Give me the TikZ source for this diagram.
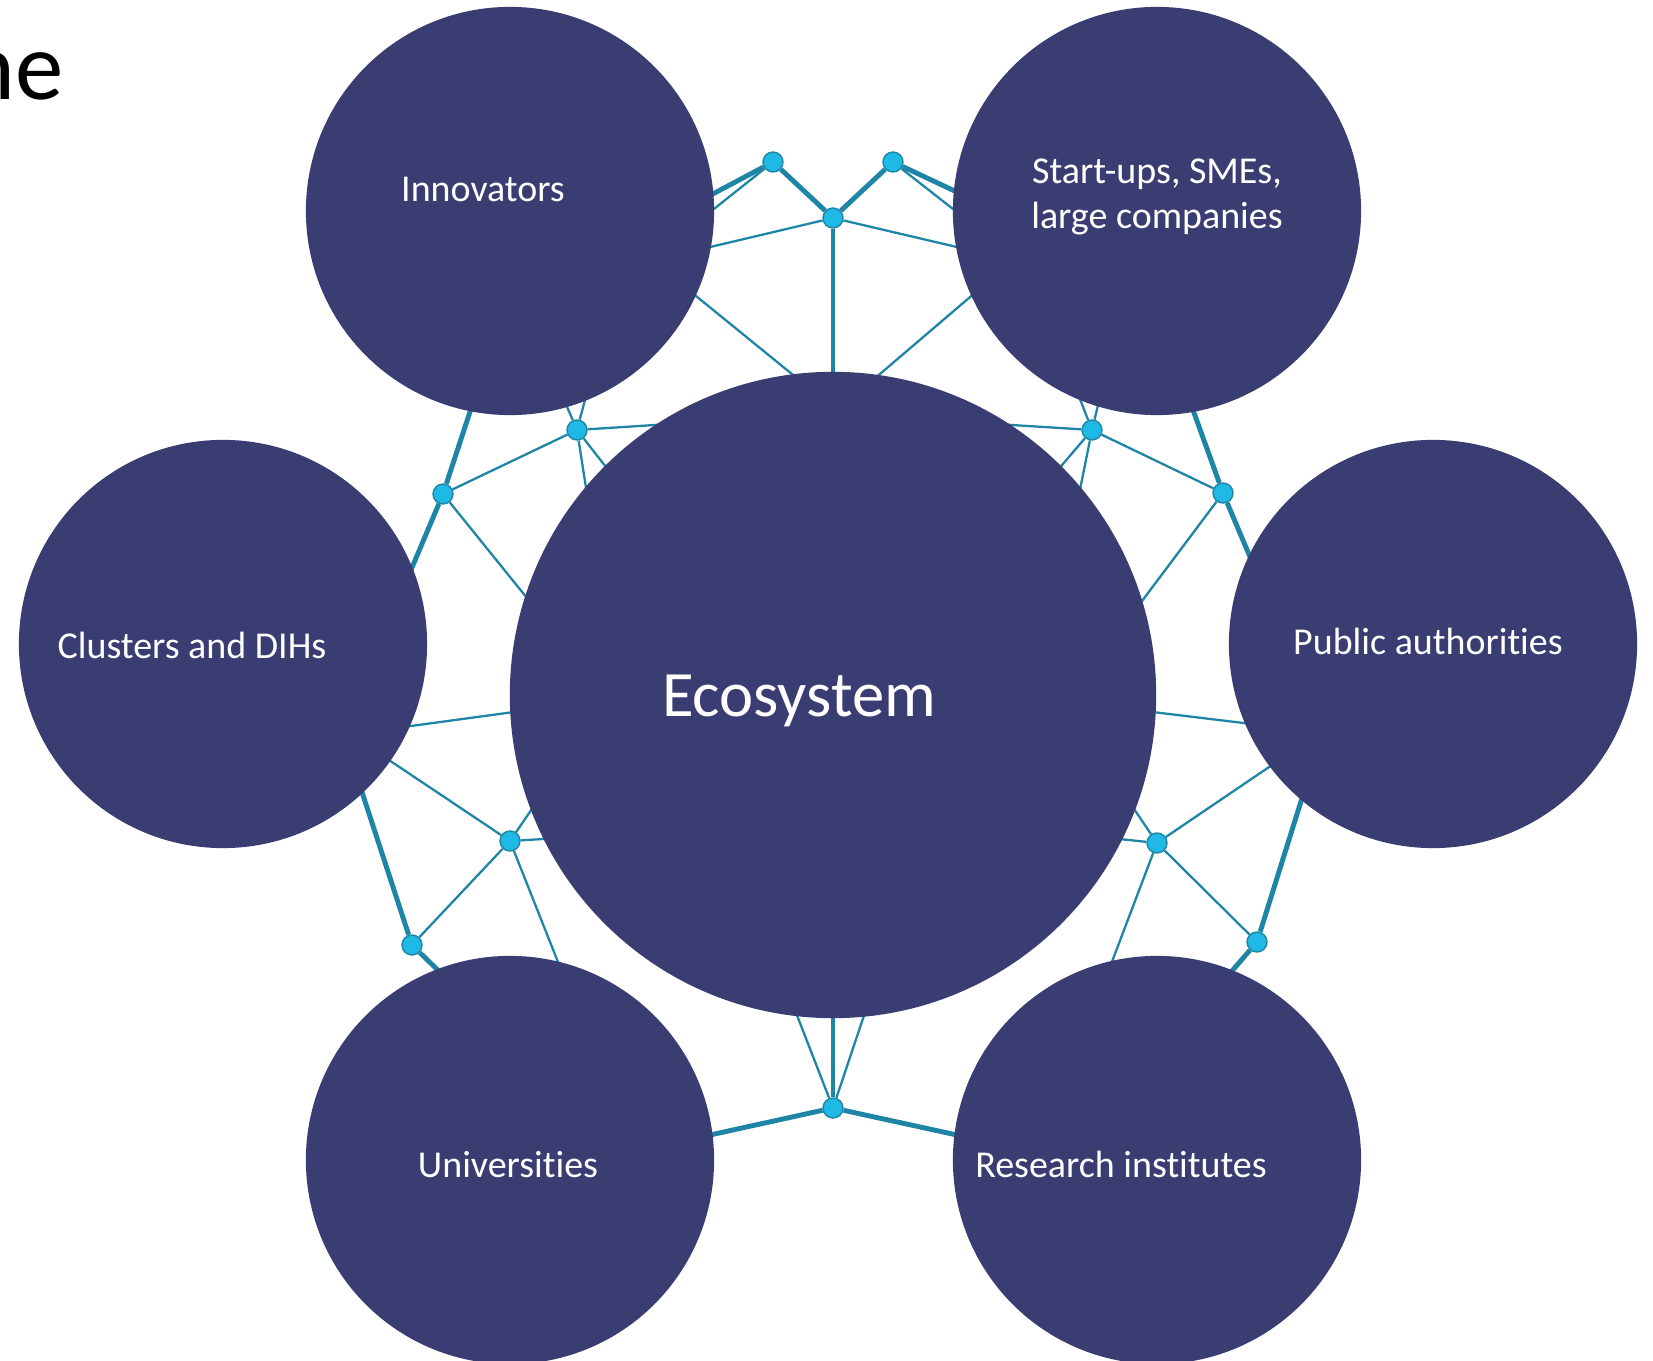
\documentclass[tikz,border=0pt]{standalone}
\usepackage{fontspec}
\setmainfont{Carlito}[Ligatures=NoCommon]
\usetikzlibrary{backgrounds}
\definecolor{navy}{RGB}{57,61,114}
\definecolor{netline}{RGB}{31,133,166}
\definecolor{netdot}{RGB}{30,185,228}
\tikzset{
  disc/.style={circle, fill=navy, inner sep=0pt, outer sep=-2pt, minimum size=4.08cm},
  hub/.style={disc, minimum size=6.46cm},
  knot/.style={circle, fill=netdot, draw=netline, line width=0.4pt, inner sep=0pt, minimum size=0.2cm},
  wire/.style={netline, line width=0.65pt},
  bigwire/.style={netline, line width=1.4pt},
  caption/.style={white, font=\fontsize{10.8}{12.6}\selectfont, align=center, inner sep=0pt}
}

\begin{document}
\begin{tikzpicture}[x=0.01cm, y=-0.01cm]
			%%%%% START %%%%%
			\useasboundingbox (0,0) rectangle (1653,1361);
			
			\node[anchor=base east, inner sep=0pt, font=\fontsize{27.5}{33}\selectfont] (cut) at (64,100) {ne};
			
			\node[hub] (eco) at (833,695) {};
			\node[disc] (inno) at (510,211) {};
			\node[disc] (su) at (1157,211) {};
			\node[disc] (clu) at (223,644) {};
			\node[disc] (pub) at (1433,644) {};
			\node[disc] (uni) at (510,1160) {};
			\node[disc] (res) at (1157,1160) {};
			
			\node[knot] (A1) at (773,162) {};
			\node[knot] (A2) at (893,162) {};
			\node[knot] (A3) at (833,218) {};
			\node[knot] (B1) at (577,430) {};
			\node[knot] (B2) at (443,494) {};
			\node[knot] (C1) at (1092,430) {};
			\node[knot] (C2) at (1223,493) {};
			\node[knot] (D1) at (510,841) {};
			\node[knot] (D2) at (412,945) {};
			\node[knot] (E1) at (1157,843) {};
			\node[knot] (E2) at (1257,942) {};
			\node[knot] (F) at (833,1108) {};
			
			\node[caption] (innotxt) at (483,189) {Innovators};
			\node[caption] (sutxt) at (1157,197) {Start-ups, SMEs,\\large companies};
			\node[caption] (clutxt) at (192,645) {Clusters and DIHs};
			\node[caption] (pubtxt) at (1428,641) {Public authorities};
			\node[caption] (unitxt) at (508,1165) {Universities};
			\node[caption] (restxt) at (1121,1164) {Research institutes};
			\node[caption, font=\fontsize{18.4}{22}\selectfont] (ecotxt) at (799,701) {Ecosystem};
			
			\begin{pgfonlayer}{background}
			% top
			\draw[bigwire] (inno.4.5) -- (A1) -- (A3) -- (A2) -- (su.175.5);
			\draw[bigwire] (A3) -- (eco.90);
			\draw[wire] (A1) -- (inno.-1.7);
			\draw[wire] (A2) -- (su.181.7);
			\draw[wire] (inno.-11.6) -- (A3) -- (su.191.6);
			\draw[wire] (inno.-24.7) -- (eco.96.2);
			\draw[wire] (su.204.7) -- (eco.83.8);
			
			% upper left
			\draw[bigwire] (inno.259.6) -- (B2) -- (clu.20.3);
			\draw[wire] (B2) -- (B1);
			\draw[wire] (B2) -- (eco.163.5);
			\draw[wire] (inno.286.2) -- (B1) -- (inno.293.7);
			\draw[wire] (B1) -- (eco.121);
			\draw[wire] (B1) -- (eco.135);
			\draw[wire] (B1) -- (eco.141);
			
			% upper right
			\draw[bigwire] (su.280.4) -- (C2) -- (pub.156);
			\draw[wire] (C2) -- (C1);
			\draw[wire] (C2) -- (eco.16.5);
			\draw[wire] (su.246.3) -- (C1) -- (su.253.8);
			\draw[wire] (C1) -- (eco.59);
			\draw[wire] (C1) -- (eco.45);
			\draw[wire] (C1) -- (eco.39);
			
			% sides
			\draw[wire] (clu.-25.6) -- (eco.183.5);
			\draw[wire] (pub.204.9) -- (eco.-3.5);
			
			% lower left
			\draw[bigwire] (clu.-46.2) -- (D2) -- (uni.110.8);
			\draw[wire] (D2) -- (D1);
			\draw[wire] (clu.-35.8) -- (D1) -- (uni.75.8);
			\draw[wire] (D1) -- (eco.200.5);
			\draw[wire] (D1) -- (eco.207.5);
			
			% lower right
			\draw[bigwire] (pub.229.2) -- (E2) -- (res.69);
			\draw[wire] (E2) -- (E1);
			\draw[wire] (pub.217.3) -- (E1) -- (res.104.2);
			\draw[wire] (E1) -- (eco.-20.4);
			\draw[wire] (E1) -- (eco.-27.4);
			
			% bottom
			\draw[bigwire] (uni.7) -- (F) -- (res.173);
			\draw[bigwire] (F) -- (eco.270);
			\draw[wire] (eco.263.6) -- (F) -- (eco.276.6);
			\end{pgfonlayer}
			
			%%%%% END %%%%%
\end{tikzpicture}
\end{document}
